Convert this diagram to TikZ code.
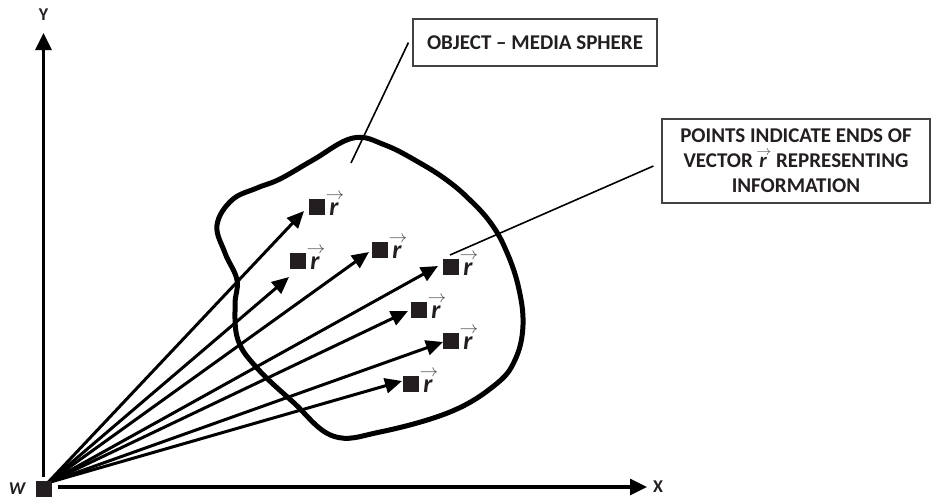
\documentclass[tikz,border=0pt]{standalone}
\usepackage{fontspec}
\setmainfont{Carlito}
\usetikzlibrary{arrows.meta,positioning}
\definecolor{ink}{RGB}{35,31,32}
\newcommand{\rvec}{\mbox{\kern0.08em\itshape r\kern0.22em}\llap{\raisebox{0.6em}{\color{ink!80}\resizebox{0.72em}{0.24em}{$\rightarrow$}}}}
\tikzset{
  axis/.style={line width=3.2pt, -{Triangle[length=17pt,width=16pt]}},
  vec/.style={line width=3pt, -{Triangle[length=17pt,width=15pt]}},
  blob/.style={line width=5pt},
  leader/.style={line width=1.6pt},
  dot/.style={fill=ink, minimum size=16pt, inner sep=0pt},
  rlab/.style={font=\fontsize{26}{26}\selectfont\bfseries, text=ink, inner sep=0pt},
  axlab/.style={font=\fontsize{18}{18}\selectfont\bfseries, text=ink, inner sep=0pt},
  callout/.style={draw=ink!85, line width=1.1pt, font=\fontsize{21}{25}\selectfont\bfseries, text=ink, align=center, inner sep=0pt}
}
\begin{document}
\begin{tikzpicture}[x=1pt, y=-1pt]
    \useasboundingbox (0,0) rectangle (932,498);
    % media sphere
    \draw[blob] plot[smooth cycle, tension=0.65] coordinates {(217,225) (232,200) (257,188) (280,179) (313,160) (353,138) (385,145) (420,163) (448,181) (470,200) (490,222) (505,248) (518,285) (523,325) (515,360) (495,385) (450,412) (380,432) (333,436) (293,402) (257,368) (238,340) (235,305) (237,280) (225,253)};
    % origin and axes
    \node[dot] (w) at (43.5,489) {};
    \node[axlab, font=\fontsize{18}{18}\selectfont\bfseries\itshape, left=10pt of w] (wlab) {W};
    \node[axlab, anchor=south] (ylab) at (43.5,21) {Y};
    \node[axlab, anchor=west] (xlab) at (653,487) {X};
    \draw[axis, shorten >=12pt] ([yshift=4pt]w.north) -- (ylab.south);
    \draw[axis, shorten >=6pt] ([xshift=6pt,yshift=2pt]w.east) -- (xlab.west);
    \coordinate (o) at ([shift={(-4pt,-2pt)}]w.north east);
    % vectors r
    \foreach \i/\dx/\dy/\tx/\ty in {1/317/207/304/211, 2/298/261/289/277, 3/380/250/369/252, 4/451/267/438/266, 5/419/310/408/311, 6/451/341/443/342, 7/411/384/402/381} {
        \coordinate (t\i) at (\tx,\ty);
        \draw[vec] (o) -- (t\i);
        \node[dot] (p\i) at (\dx,\dy) {};
        \node[rlab, anchor=base west] (r\i) at ([xshift=2pt]p\i.south east) {\rvec};
    }
    \node[dot] at (w) {};
    % call-outs
    \node[callout, minimum width=244pt, minimum height=47pt] (obj) at (535,42.5) {OBJECT -- MEDIA SPHERE};
    \node[callout, minimum width=268pt, minimum height=84pt] (pts) at (796,161) {POINTS INDICATE ENDS OF\\VECTOR\ \rvec{} REPRESENTING\\INFORMATION};
    \coordinate (objend) at (351,163);
    \coordinate (ptsend) at (450,255);
    \draw[leader] ([xshift=-4pt]obj.west) -- (objend);
    \draw[leader] ([shift={(-8pt,-5pt)}]pts.west) -- (ptsend);
\end{tikzpicture}
\end{document}
